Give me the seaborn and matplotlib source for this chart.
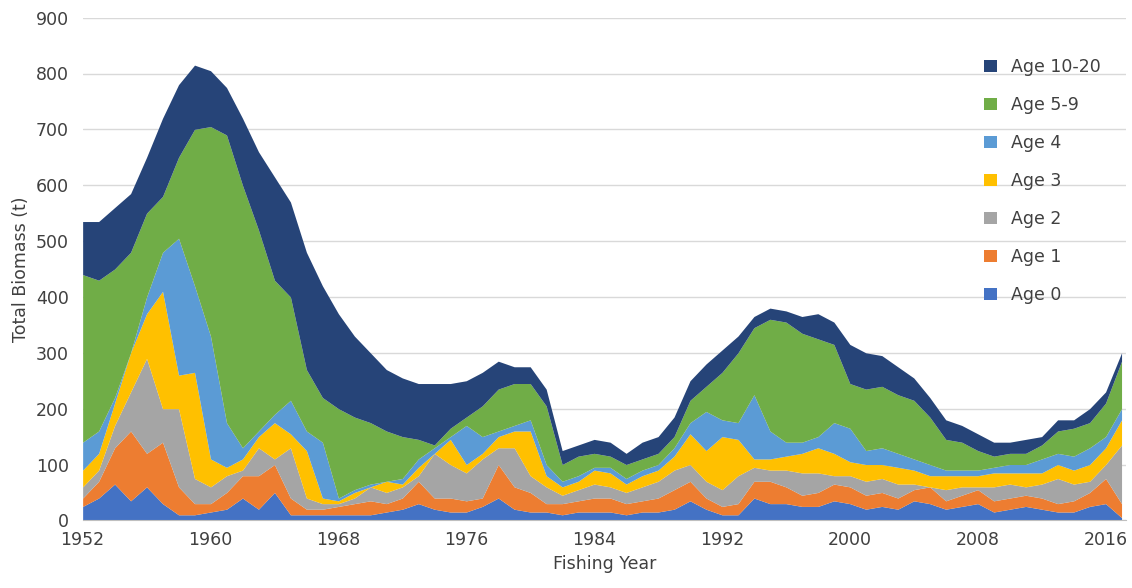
import numpy as np
import matplotlib
matplotlib.use("Agg")
import matplotlib.pyplot as plt
import seaborn as sns

years = list(range(1952, 2018))
# cumulative upper edges (t)
top_age0 = [25,40,65,35,60,30,10,10,15,20,40,20,50,10,10,10,10,10,10,15,20,30,20,15,15,25,40,20,15,15,10,15,15,15,10,15,15,20,35,20,10,10,40,30,30,25,25,35,30,20,25,20,35,30,20,25,30,15,20,25,20,15,15,25,30,5]
top_age1 = [40,70,130,160,120,140,60,30,30,50,80,80,100,40,20,20,25,30,35,30,40,70,40,40,35,40,100,60,50,30,30,35,40,40,30,35,40,55,70,40,25,30,70,70,60,45,50,65,60,45,50,40,55,60,35,45,55,35,40,45,40,30,35,50,75,30]
top_age2 = [60,90,170,230,290,200,200,75,60,80,90,130,110,130,40,30,30,40,60,50,60,80,120,100,85,110,130,130,80,60,45,55,65,60,50,60,70,90,100,70,55,80,95,90,90,85,85,80,80,70,75,65,65,60,55,60,60,60,65,60,65,75,65,70,100,135]
top_age3 = [90,120,210,300,370,410,260,265,110,95,110,150,175,155,125,40,35,50,60,70,65,95,120,145,100,120,150,160,160,80,60,70,90,85,65,80,90,115,155,125,150,145,110,110,115,120,130,120,105,100,100,95,90,80,80,80,80,85,85,85,85,100,90,100,130,180]
top_age4 = [140,160,220,300,400,480,505,420,330,175,130,160,190,215,160,140,40,55,65,70,75,110,130,150,170,150,160,170,180,100,70,80,95,95,75,90,100,130,175,195,180,175,225,160,140,140,150,175,165,125,130,120,110,100,90,90,90,95,100,100,110,120,115,130,150,200]
top_age59 = [440,430,450,480,550,580,650,700,705,690,600,520,430,400,270,220,200,185,175,160,150,145,135,165,185,205,235,245,245,205,100,115,120,115,100,110,120,150,215,240,265,300,345,360,355,335,325,315,245,235,240,225,215,185,145,140,125,115,120,120,135,160,165,175,210,285]
top_total = [535,535,560,585,650,720,780,815,805,775,720,660,615,570,480,420,370,330,300,270,255,245,245,245,250,265,285,275,275,235,125,135,145,140,120,140,150,185,250,280,305,330,365,380,375,365,370,355,315,300,295,275,255,220,180,170,155,140,140,145,150,180,180,200,230,300]

labels = ["Age 0", "Age 1", "Age 2", "Age 3", "Age 4", "Age 5-9", "Age 10-20"]
colors = ["#4472C4", "#ED7D31", "#A5A5A5", "#FFC000", "#5B9BD5", "#70AD47", "#264478"]

tops = np.array([top_age0, top_age1, top_age2, top_age3, top_age4, top_age59, top_total], dtype=float)
tops = np.maximum.accumulate(tops, axis=0)
layers = np.diff(np.vstack([np.zeros(len(years)), tops]), axis=0)

sns.set_style("white")
fig, ax = plt.subplots(figsize=(11.32, 5.88), dpi=100)
ax.stackplot(years, layers, labels=labels, colors=colors, linewidth=0, zorder=2)
ax.set_xlim(1952, 2017.3)
ax.set_ylim(0, 900)
ax.set_xticks(range(1952, 2017, 8))
ax.set_yticks(range(0, 901, 100))
ax.yaxis.grid(True, color="#D9D9D9", linewidth=1, zorder=0)
ax.set_axisbelow(True)
for s in ["top", "right", "left"]:
    ax.spines[s].set_visible(False)
ax.spines["bottom"].set_color("#BFBFBF")
ax.tick_params(axis="both", labelsize=12.5, colors="#404040", length=0)
ax.tick_params(axis="x", pad=8)
ax.tick_params(axis="y", pad=10)
ax.set_xlabel("Fishing Year", fontsize=12.5, color="#404040")
ax.set_ylabel("Total Biomass (t)", fontsize=12.5, color="#404040")
h, l = ax.get_legend_handles_labels()
ax.legend(h[::-1], l[::-1], loc="upper right", bbox_to_anchor=(0.99, 0.95), frameon=False,
          fontsize=12.5, handlelength=0.7, handleheight=0.7, labelspacing=1.15, labelcolor="#404040")
plt.subplots_adjust(left=0.073, right=0.995, top=0.97, bottom=0.115)
fig.savefig("out.png", dpi=100)
